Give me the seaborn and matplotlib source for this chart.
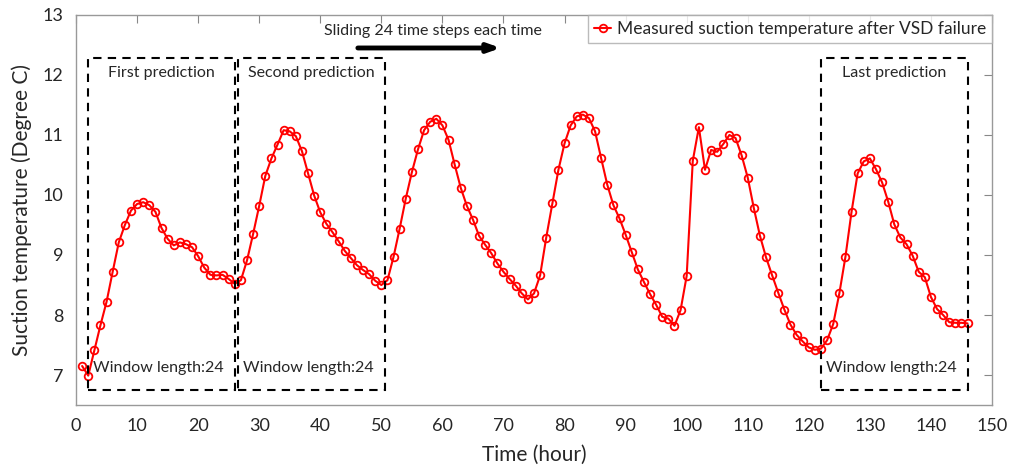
import numpy as np
import pandas as pd
import matplotlib
matplotlib.use("Agg")
import matplotlib.pyplot as plt
import seaborn as sns
from matplotlib.patches import Rectangle

# Measured suction temperature after VSD failure (hourly)
temps = [
    7.15, 6.99, 7.41, 7.83, 8.22, 8.72, 9.21, 9.50, 9.74, 9.85,
    9.88, 9.83, 9.72, 9.45, 9.27, 9.16, 9.21, 9.18, 9.13, 8.98,
    8.79, 8.67, 8.66, 8.67, 8.60, 8.52, 8.58, 8.91, 9.35, 9.82,
    10.32, 10.61, 10.84, 11.08, 11.06, 10.98, 10.73, 10.36, 9.99, 9.71,
    9.52, 9.38, 9.23, 9.07, 8.95, 8.83, 8.75, 8.68, 8.57, 8.50,
    8.58, 8.97, 9.44, 9.94, 10.38, 10.76, 11.08, 11.22, 11.27, 11.16,
    10.92, 10.51, 10.12, 9.82, 9.59, 9.32, 9.17, 9.03, 8.86, 8.72,
    8.60, 8.49, 8.36, 8.26, 8.36, 8.66, 9.29, 9.86, 10.42, 10.86,
    11.16, 11.31, 11.34, 11.28, 11.06, 10.61, 10.17, 9.83, 9.61, 9.34,
    9.05, 8.76, 8.55, 8.35, 8.17, 7.97, 7.94, 7.82, 8.08, 8.65,
    10.57, 11.13, 10.42, 10.75, 10.72, 10.85, 11.00, 10.95, 10.66, 10.29,
    9.78, 9.32, 8.96, 8.66, 8.37, 8.09, 7.84, 7.67, 7.56, 7.46,
    7.42, 7.44, 7.58, 7.85, 8.36, 8.97, 9.72, 10.36, 10.56, 10.61,
    10.43, 10.21, 9.89, 9.51, 9.29, 9.18, 8.99, 8.72, 8.63, 8.30,
    8.10, 8.00, 7.88, 7.87, 7.87, 7.86,
]
hours = list(range(1, len(temps) + 1))

# prediction windows (start hour, end hour) and their labels
win_start = [2, 26.6, 122]
win_end = [26, 50.6, 146]
win_titles = ["First prediction", "Second prediction", "Last prediction"]
win_bottom = 6.75
win_top = 12.28

sns.set_style("white")
plt.rcParams['font.family'] = ['Lato', 'DejaVu Sans']

df = pd.DataFrame({"Time": hours, "Temp": temps})

fig = plt.figure(figsize=(10.11, 4.65), dpi=100)
ax = fig.add_axes([0.0752, 0.129, 0.906, 0.8388])

sns.lineplot(data=df, x="Time", y="Temp", ax=ax, color="red", linewidth=1.5,
             marker="o", markersize=5.5, markerfacecolor="none",
             markeredgecolor="red", markeredgewidth=1.3,
             label="Measured suction temperature after VSD failure")

for x0, x1, title in zip(win_start, win_end, win_titles):
    ax.add_patch(Rectangle((x0, win_bottom), x1 - x0, win_top - win_bottom,
                           fill=False, linestyle=(0, (4, 3)), linewidth=1.5,
                           edgecolor="black", zorder=3))
    ax.text((x0 + x1) / 2, 12.04, title, ha="center", va="center", fontsize=11.5)
    ax.text(x0 + 0.8, 7.12, "Window length:24", ha="left", va="center", fontsize=11.5)

# sliding arrow
ax.annotate("", xy=(70, 12.45), xytext=(45.7, 12.45),
            arrowprops=dict(arrowstyle="-|>,head_length=0.7,head_width=0.25",
                            color="black", lw=3.5))
ax.text(58.5, 12.74, "Sliding 24 time steps each time", ha="center", va="center",
        fontsize=11.5)

ax.set_xlim(0, 150)
ax.set_ylim(6.5, 13)
ax.set_xticks(np.arange(0, 151, 10))
ax.set_yticks(np.arange(7, 14, 1))
ax.tick_params(direction="in", top=True, right=True, length=6, width=0.8,
               color="#888888", labelsize=13, pad=9)
for s in ax.spines.values():
    s.set_visible(True)
    s.set_color("#999999")
    s.set_linewidth(1.0)

ax.set_xlabel("Time (hour)", fontsize=15, labelpad=8)
ax.set_ylabel("Suction temperature (Degree C)", fontsize=15, labelpad=8)

leg = ax.legend(loc="upper right", fontsize=12.5, frameon=True, fancybox=False,
                edgecolor="#aaaaaa", borderaxespad=0.0, handlelength=1.0,
                handletextpad=0.3, borderpad=0.35)
leg.get_frame().set_linewidth(1.0)

fig.savefig("out.png", dpi=100)
